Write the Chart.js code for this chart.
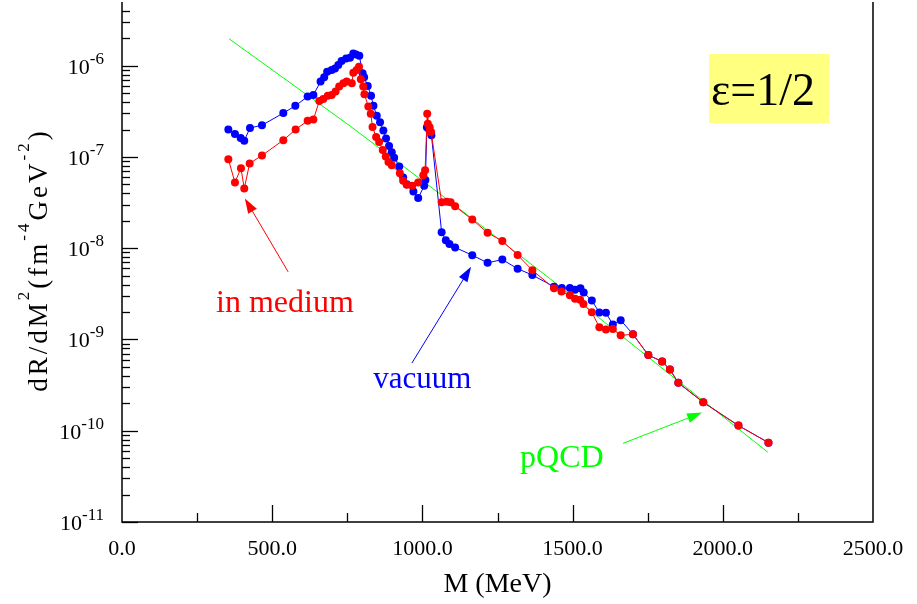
<!DOCTYPE html>
<html>
<head>
<meta charset="utf-8">
<script src="https://cdn.jsdelivr.net/npm/chart.js@4.4.0/dist/chart.umd.min.js"></script>
<style>
  html, body { margin: 0; padding: 0; background: #fff; }
  canvas { display: block; }
</style>
</head>
<body>
<canvas id="chart" width="917" height="604"></canvas>
<script>
// Vacuum spectrum (MeV, dR/dM^2)
const vacuumMass = [354, 376, 395, 407, 426, 466, 537, 577, 618, 637, 661, 673, 683, 698, 709, 720, 731, 746, 759, 770, 779, 790,
  801, 806, 818, 829, 837, 848, 859, 870, 879, 889, 898, 906, 923, 936, 948, 970, 986, 1006, 1010, 1015, 1023, 1030,
  1064, 1078, 1090, 1109, 1166, 1217, 1266, 1317, 1366, 1438, 1464, 1491, 1508, 1526, 1537, 1564, 1589, 1611, 1634, 1660,
  1701, 1752, 1798, 1824, 1852, 1935, 2052, 2152]
const vacuumRate = [2.00e-7, 1.79e-7, 1.62e-7, 1.51e-7, 2.08e-7, 2.23e-7, 3.03e-7, 3.64e-7, 4.60e-7, 4.79e-7, 6.70e-7, 7.46e-7,
  8.61e-7, 8.96e-7, 9.35e-7, 1.02e-6, 1.13e-6, 1.20e-6, 1.22e-6, 1.36e-6, 1.33e-6, 1.29e-6,
  8.25e-7, 7.46e-7, 6.00e-7, 4.68e-7, 3.64e-7, 2.83e-7, 2.40e-7, 1.95e-7, 1.59e-7, 1.32e-7, 1.13e-7, 9.8e-8, 7.85e-8,
  5.96e-8, 5.04e-8, 4.20e-8, 3.55e-8, 4.84e-8, 5.60e-8, 2.12e-7, 1.96e-7, 1.73e-7,
  1.50e-8, 1.22e-8, 1.11e-8, 1.02e-8, 8.39e-9, 6.92e-9, 7.52e-9, 5.96e-9, 5.09e-9, 3.79e-9, 3.66e-9, 3.66e-9, 3.52e-9,
  3.64e-9, 3.27e-9, 2.67e-9, 1.98e-9, 1.96e-9, 1.46e-9, 1.63e-9,
  1.14e-9, 6.75e-10, 5.74e-10, 4.68e-10, 3.35e-10, 2.05e-10, 1.14e-10, 7.41e-11]

// In-medium spectrum
const mediumMass = [354, 376, 396, 407, 425, 466, 537, 578, 618, 637, 657, 670, 685, 698, 711, 723, 737, 748, 765, 770, 781, 789,
  795, 803, 807, 820, 828, 834, 846, 856, 868, 878, 887, 898, 925, 936, 948, 966, 986, 1003, 1009, 1016, 1018, 1024, 1029,
  1064, 1081, 1094, 1109, 1166, 1217, 1266, 1317, 1366, 1438, 1463, 1491, 1508, 1525, 1536, 1564, 1589, 1611, 1634, 1660,
  1701, 1752, 1798, 1824, 1852, 1935, 2052, 2152]
const mediumRate = [9.47e-8, 5.26e-8, 7.55e-8, 4.52e-8, 8.51e-8, 1.04e-7, 1.53e-7, 2.00e-7, 2.50e-7, 2.57e-7, 4.12e-7, 4.31e-7,
  4.68e-7, 4.79e-7, 5.21e-7, 5.91e-7, 6.43e-7, 6.70e-7, 6.43e-7, 8.40e-7, 8.96e-7, 9.75e-7,
  7.10e-7, 5.91e-7, 4.88e-7, 3.58e-7, 2.98e-7, 2.13e-7, 1.66e-7, 1.46e-7, 1.19e-7, 1.01e-7, 8.83e-8, 8.11e-8,
  6.64e-8, 5.48e-8, 4.97e-8, 4.84e-8, 5.26e-8, 6.31e-8, 7.15e-8, 2.98e-7, 2.32e-7, 2.12e-7, 1.88e-7,
  3.19e-8, 3.24e-8, 3.19e-8, 2.88e-8, 2.06e-8, 1.48e-8, 1.20e-8, 8.45e-9, 5.74e-9, 3.64e-9, 3.35e-9, 3.05e-9, 2.79e-9,
  2.72e-9, 2.45e-9, 1.99e-9, 1.36e-9, 1.29e-9, 1.30e-9, 1.11e-9,
  1.14e-9, 6.75e-10, 5.74e-10, 4.68e-10, 3.35e-10, 2.05e-10, 1.14e-10, 7.41e-11]

// pQCD curve
const pqcdMass = [356, 759, 1082, 1425, 1768, 2150]
const pqcdRate = [1.98e-6, 2.19e-7, 3.44e-8, 4.63e-9, 5.81e-10, 5.81e-11]

// Axis ticks
const xTickValues = [0, 500, 1000, 1500, 2000, 2500]
const xTickLabels = ['0.0', '500.0', '1000.0', '1500.0', '2000.0', '2500.0']
const yTickExponents = [-11, -10, -9, -8, -7, -6]

const SERIF = '"Liberation Serif", "DejaVu Serif", serif'

function toPoints(xs, ys) {
  return xs.map((m, i) => ({ x: m, y: ys[i] }))
}

// Arrow with filled head at (x2, y2)
function arrow(ctx, x1, y1, x2, y2, color) {
  const ang = Math.atan2(y2 - y1, x2 - x1)
  const len = 15
  const half = 5
  ctx.strokeStyle = color
  ctx.fillStyle = color
  ctx.lineWidth = 1
  ctx.beginPath()
  ctx.moveTo(x1, y1)
  ctx.lineTo(x2 - Math.cos(ang) * len * 0.8, y2 - Math.sin(ang) * len * 0.8)
  ctx.stroke()
  ctx.beginPath()
  ctx.moveTo(x2, y2)
  ctx.lineTo(x2 - Math.cos(ang) * len - Math.sin(ang) * half, y2 - Math.sin(ang) * len + Math.cos(ang) * half)
  ctx.lineTo(x2 - Math.cos(ang) * len + Math.sin(ang) * half, y2 - Math.sin(ang) * len - Math.cos(ang) * half)
  ctx.closePath()
  ctx.fill()
}

// Text with superscripts: parts = [[text, isSup], ...]
function richText(ctx, parts, x, y, size, supSize, raise, spacing) {
  let cx = x
  parts.forEach(([t, sup]) => {
    ctx.font = (sup ? supSize : size) + 'px ' + SERIF
    ctx.letterSpacing = spacing + 'px'
    ctx.fillText(t, cx, sup ? y - raise : y)
    cx += ctx.measureText(t).width
  })
  ctx.letterSpacing = '0px'
  return cx - x
}

function richWidth(ctx, parts, size, supSize, spacing) {
  let w = 0
  parts.forEach(([t, sup]) => {
    ctx.font = (sup ? supSize : size) + 'px ' + SERIF
    ctx.letterSpacing = spacing + 'px'
    w += ctx.measureText(t).width
  })
  ctx.letterSpacing = '0px'
  return w
}

// Axes, inward ticks, labels and annotations
const frame = {
  id: 'frame',
  afterDraw(chart) {
    const { ctx, chartArea: { left, right, top, bottom }, scales: { x, y } } = chart
    ctx.save()
    ctx.strokeStyle = '#000'
    ctx.lineWidth = 1.5
    ctx.beginPath()
    ctx.moveTo(left, top - 2)
    ctx.lineTo(left, bottom)
    ctx.lineTo(right, bottom)
    ctx.lineTo(right, top - 2)
    ctx.stroke()

    // x ticks
    ctx.lineWidth = 1.3
    for (let v = 250; v < 2500; v += 250) {
      const px = Math.round(x.getPixelForValue(v)) + 0.5
      const len = v % 500 === 0 ? 17 : 9
      ctx.beginPath()
      ctx.moveTo(px, bottom)
      ctx.lineTo(px, bottom - len)
      ctx.stroke()
    }
    // y ticks
    yTickExponents.forEach((e) => {
      for (let m = 1; m <= 9; m++) {
        const v = m * Math.pow(10, e)
        if (v > y.max) break
        const py = Math.round(y.getPixelForValue(v)) + 0.5
        const len = m === 1 ? 16 : 8
        ctx.beginPath()
        ctx.moveTo(left, py)
        ctx.lineTo(left + len, py)
        ctx.stroke()
      }
    })

    ctx.fillStyle = '#000'
    ctx.textBaseline = 'alphabetic'
    // x labels
    ctx.font = '22px ' + SERIF
    ctx.textAlign = 'center'
    xTickValues.forEach((v, i) => {
      ctx.fillText(xTickLabels[i], x.getPixelForValue(v), 555)
    })
    // y labels
    ctx.textAlign = 'left'
    yTickExponents.forEach((e) => {
      const parts = [['10', false], [String(e), true]]
      const w = richWidth(ctx, parts, 22, 17, 0)
      const py = y.getPixelForValue(Math.pow(10, e))
      richText(ctx, parts, left - 18 - w, py + 8, 22, 17, 10, 0)
    })

    // axis titles
    ctx.font = '28px ' + SERIF
    ctx.textAlign = 'center'
    ctx.fillText('M (MeV)', (left + right) / 2, 592)

    const yTitle = [['dR/dM', false], ['2', true], ['(fm', false], ['-4', true], ['GeV', false], ['-2', true], [')', false]]
    ctx.save()
    ctx.translate(47, 260)
    ctx.rotate(-Math.PI / 2)
    ctx.textAlign = 'left'
    const tw = richWidth(ctx, yTitle, 27, 17, 3)
    richText(ctx, yTitle, -tw / 2, 0, 27, 17, 18, 3)
    ctx.restore()

    // annotations
    ctx.textAlign = 'left'
    ctx.font = '32px ' + SERIF
    ctx.fillStyle = '#ff0000'
    ctx.fillText('in medium', x.getPixelForValue(313), y.getPixelForValue(1.98e-9))
    arrow(ctx, x.getPixelForValue(553), y.getPixelForValue(5.52e-9), x.getPixelForValue(409), y.getPixelForValue(3.52e-8), '#ff0000')

    ctx.font = '31px ' + SERIF
    ctx.fillStyle = '#0000ff'
    ctx.fillText('vacuum', x.getPixelForValue(836), y.getPixelForValue(2.96e-10))
    arrow(ctx, x.getPixelForValue(965), y.getPixelForValue(5.52e-10), x.getPixelForValue(1162), y.getPixelForValue(6.27e-9), '#0000ff')

    ctx.font = '32px ' + SERIF
    ctx.fillStyle = '#00ff00'
    ctx.fillText('pQCD', x.getPixelForValue(1325), y.getPixelForValue(3.99e-11))
    arrow(ctx, x.getPixelForValue(1668), y.getPixelForValue(7.28e-11), x.getPixelForValue(1931), y.getPixelForValue(1.58e-10), '#00ff00')

    // epsilon box
    ctx.fillStyle = '#ffff80'
    ctx.fillRect(709, 54, 120, 69)
    ctx.fillStyle = '#000'
    ctx.font = '46px ' + SERIF
    ctx.fillText('ε=1/2', 711, 105)
    ctx.restore()
  },
}

new Chart(document.getElementById('chart'), {
  type: 'line',
  data: {
    datasets: [
      {
        label: 'in medium',
        data: toPoints(mediumMass, mediumRate),
        borderColor: '#ff0000',
        backgroundColor: '#ff0000',
        borderWidth: 1,
        pointRadius: 4,
        pointBorderWidth: 0,
      },
      {
        label: 'vacuum',
        data: toPoints(vacuumMass, vacuumRate),
        borderColor: '#0000ff',
        backgroundColor: '#0000ff',
        borderWidth: 1,
        pointRadius: 4,
        pointBorderWidth: 0,
      },
      {
        label: 'pQCD',
        data: toPoints(pqcdMass, pqcdRate),
        borderColor: '#00ff00',
        borderWidth: 1,
        pointRadius: 0,
      },
    ],
  },
  options: {
    responsive: false,
    animation: false,
    layout: {
      padding: { left: 122, right: 44, top: 0, bottom: 82 },
    },
    plugins: {
      legend: { display: false },
      tooltip: { enabled: false },
    },
    scales: {
      x: { type: 'linear', min: 0, max: 2500, display: false },
      y: { type: 'logarithmic', min: 1e-11, max: 4.75e-6, display: false },
    },
  },
  plugins: [frame],
})
</script>
</body>
</html>
